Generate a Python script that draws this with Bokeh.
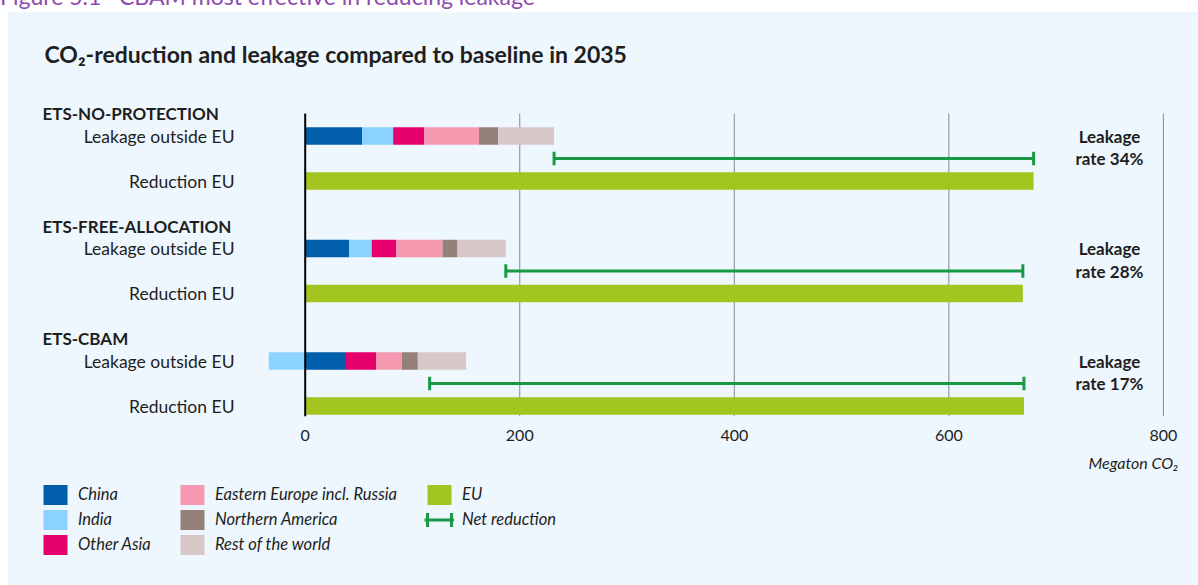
import numpy as np
from bokeh.plotting import figure
from bokeh.models import Range1d, FixedTicker, Label, Legend, LegendItem, Div, Spacer
from bokeh.core.properties import value
from bokeh.layouts import column, row
from bokeh.embed import file_html
from bokeh.resources import INLINE

# ---------------- data ----------------
scenarios = ["ETS-NO-PROTECTION", "ETS-FREE-ALLOCATION", "ETS-CBAM"]
regions = ["China", "India", "Other Asia", "Eastern Europe incl. Russia",
           "Northern America", "Rest of the world"]
china = [53, 41, 38]
india = [29, 21, -34]
other_asia = [29, 23, 28]
eastern_europe = [51, 43, 24]
northern_america = [18, 14, 15]
rest_of_world = [52, 45, 45]
eu_reduction = [679, 669, 670]
row_labels = ["Leakage outside EU", "Reduction EU"]
x_ticks = [0, 200, 400, 600, 800]

# ---------------- styles / geometry (page pixels) ----------------
PANEL = "#edf7fd"
FONT = "Lato"
TXT = "#1e1e1e"
region_colors = ["#005eab", "#8cd2fe", "#e5006d", "#f598b0", "#958079", "#d7c7c7"]
EU_COLOR = "#a3c520"
NET_COLOR = "#189a44"
GRID_COLOR = "#8a8a8a"

FIG_X, FIG_Y = 8, 12            # where the panel starts on the page
W = 1198 - FIG_X
H_MAIN = 434                     # main chart figure height
H_LEG = 585 - FIG_Y - H_MAIN     # legend strip height
FRAME_L, FRAME_R, FRAME_T, FRAME_B = 30, 1180, 30, 416
X0_PX, X800_PX = 304.7, 1162.9   # pixel position of 0 and 800 on the value axis
ROW0_PX, ROW_PX = 113.0, 22.5    # first header row and row pitch
S = (X800_PX - X0_PX) / 800.0

# ---------------- derived values ----------------
vals = np.array([china, india, other_asia, eastern_europe, northern_america, rest_of_world], float)
pos = np.where(vals > 0, vals, 0.0)
neg = np.where(vals < 0, vals, 0.0)
pos_r = np.cumsum(pos, axis=0); pos_l = pos_r - pos
neg_l = np.cumsum(neg, axis=0); neg_r = neg_l - neg
lefts = np.where(vals >= 0, pos_l, neg_l)
rights = np.where(vals >= 0, pos_r, neg_r)
leak_total = vals.sum(axis=0)
eu = np.array(eu_reduction, float)
rates = np.round(100 * leak_total / eu).astype(int)

group_rows = np.arange(len(scenarios)) * 5.0
leak_y = group_rows + 1
net_y = group_rows + 2
red_y = group_rows + 3

x_start = (FRAME_L - X0_PX) / S
x_end = (FRAME_R - X0_PX) / S
y_bottom = (FRAME_B - ROW0_PX) / ROW_PX
y_top = (FRAME_T - ROW0_PX) / ROW_PX

p = figure(width=W, height=H_MAIN, output_backend="svg", toolbar_location=None,
           x_range=Range1d(x_start, x_end), y_range=Range1d(y_bottom, y_top),
           y_axis_location=None,
           min_border_left=FRAME_L - FIG_X, min_border_right=W - (FRAME_R - FIG_X),
           min_border_top=FRAME_T - FIG_Y, min_border_bottom=FIG_Y + H_MAIN - FRAME_B,
           background_fill_color=PANEL, border_fill_color=PANEL, outline_line_color=None)
p.margin = 0
p.grid.visible = False

# x axis
p.xaxis.ticker = FixedTicker(ticks=x_ticks)
p.xaxis.axis_line_color = None
p.xaxis.major_tick_line_color = None
p.xaxis.minor_tick_line_color = None
p.xaxis.major_label_standoff = 7
p.xaxis.major_label_text_font = FONT
p.xaxis.major_label_text_font_size = "16px"
p.xaxis.major_label_text_color = TXT

# vertical grid lines (from the first header row down to the axis)
grid_x = np.array(x_ticks[1:], float)
p.segment(x0=grid_x, y0=0, x1=grid_x, y1=y_bottom, line_color=GRID_COLOR, line_width=1)

# bars
BAR_H = 0.78
for i, name in enumerate(regions):
    p.hbar(y=leak_y, left=lefts[i], right=rights[i], height=BAR_H,
           fill_color=region_colors[i], line_color=None)
p.hbar(y=red_y, left=0, right=eu, height=BAR_H, fill_color=EU_COLOR, line_color=None)

# zero line
p.segment(x0=[0], y0=[0], x1=[0], y1=[y_bottom], line_color="black", line_width=2)

# net reduction (leakage total -> EU reduction)
CAP = 0.3
p.segment(x0=leak_total, y0=net_y, x1=eu, y1=net_y, line_color=NET_COLOR, line_width=3)
p.segment(x0=leak_total, y0=net_y - CAP, x1=leak_total, y1=net_y + CAP, line_color=NET_COLOR, line_width=3)
p.segment(x0=eu, y0=net_y - CAP, x1=eu, y1=net_y + CAP, line_color=NET_COLOR, line_width=3)

# category texts
p.text(x=0, y=group_rows, text=scenarios, x_offset=42 - X0_PX,
       text_font=value(FONT), text_font_style="bold", text_font_size="17px",
       text_color=TXT, text_align="left", text_baseline="middle")
lab_y = np.concatenate([leak_y, red_y])
lab_t = [row_labels[0]] * len(scenarios) + [row_labels[1]] * len(scenarios)
p.text(x=0, y=lab_y, text=lab_t, x_offset=234 - X0_PX,
       text_font=value(FONT), text_font_size="17.5px",
       text_color=TXT, text_align="right", text_baseline="middle")
p.text(x=0, y=leak_y, text=["Leakage"] * len(scenarios), x_offset=1109 - X0_PX,
       text_font=value(FONT), text_font_style="bold", text_font_size="17px",
       text_color=TXT, text_align="center", text_baseline="middle")
p.text(x=0, y=net_y, text=[f"rate {r}%" for r in rates], x_offset=1109 - X0_PX,
       text_font=value(FONT), text_font_style="bold", text_font_size="17px",
       text_color=TXT, text_align="center", text_baseline="middle")

# chart title (screen units are relative to the frame: x from left, y from bottom)
p.add_layout(Label(x=44 - FRAME_L, y=FRAME_B - 53, x_units="screen", y_units="screen",
                   text="CO\u2082-reduction and leakage compared to baseline in 2035",
                   text_font=FONT, text_font_style="bold", text_font_size="23px",
                   text_color=TXT, text_baseline="middle"))

# ---------------- legend strip (frame aligned with the chart frame) ----------------
q = figure(width=W, height=H_LEG, output_backend="svg", toolbar_location=None,
           x_range=Range1d(0, 1), y_range=Range1d(0, 1),
           x_axis_location=None, y_axis_location=None,
           min_border_left=FRAME_L - FIG_X, min_border_right=W - (FRAME_R - FIG_X),
           min_border_top=0, min_border_bottom=0,
           background_fill_color=PANEL, border_fill_color=PANEL, outline_line_color=None)
q.margin = 0
q.grid.visible = False

GW, GH = 30, 25   # legend glyph box (area glyphs fill 80% of it: 24 x 20)

nan = [np.nan]
leg_r = [q.hbar(y=nan, left=nan, right=nan, height=1, fill_color=c, line_color=None)
         for c in region_colors]
leg_eu = q.hbar(y=nan, left=nan, right=nan, height=1, fill_color=EU_COLOR, line_color=None)
leg_net = q.segment(x0=nan, y0=nan, x1=nan, y1=nan, line_color=NET_COLOR, line_width=3)
# end caps of the legend symbol: only the two short vertical sides of the outline are drawn
leg_caps = q.hbar(y=nan, left=nan, right=nan, height=1, fill_color=None,
                  line_color=NET_COLOR, line_width=3, line_dash="0 27 14 30 14 3")

def make_legend(items, sq_left_px, sq_top_px):
    n = len(items)
    box_left = sq_left_px - 0.1 * GW
    box_top = sq_top_px - 0.1 * GH
    bottom_px = box_top + n * GH
    lg = Legend(items=items, location=(box_left - FRAME_L, 585 - bottom_px),
                orientation="vertical",
                glyph_width=GW, glyph_height=GH, label_height=GH, spacing=0,
                label_standoff=8, padding=0, margin=0,
                border_line_color=None, background_fill_alpha=0,
                label_text_font=FONT, label_text_font_style="italic",
                label_text_font_size="16.5px", label_text_color=TXT)
    q.add_layout(lg, "center")

make_legend([LegendItem(label=regions[i], renderers=[leg_r[i]]) for i in range(3)], 43, 484)
make_legend([LegendItem(label=regions[i], renderers=[leg_r[i]]) for i in range(3, 6)], 180, 484)
make_legend([LegendItem(label="EU", renderers=[leg_eu]),
             LegendItem(label="Net reduction", renderers=[leg_net, leg_caps])], 427, 484)

q.add_layout(Label(x=1178 - FRAME_L, y=585 - 462, x_units="screen", y_units="screen",
                   text="Megaton CO\u2082", text_font=FONT, text_font_style="italic",
                   text_font_size="16px", text_color=TXT, text_baseline="middle",
                   text_align="right"))

# page header (figure caption, cut off at the top)
header = Div(text='<div style="position:absolute;left:0px;top:-15px;white-space:nowrap;'
                  'font-family:Lato;font-size:23px;line-height:23px;color:#8e4bb0;">'
                  'Figure 5.1&nbsp;&nbsp;&nbsp;CBAM most effective in reducing leakage</div>',
             width=1198, height=FIG_Y, margin=0, styles={"overflow": "hidden", "position": "relative"})
panel = column(p, q, spacing=0, styles={"background-color": PANEL})
layout = column(header, row(Spacer(width=FIG_X, height=585 - FIG_Y, margin=0), panel, spacing=0),
                spacing=0)

with open("out.html", "w") as f:
    f.write(file_html(layout, INLINE))
